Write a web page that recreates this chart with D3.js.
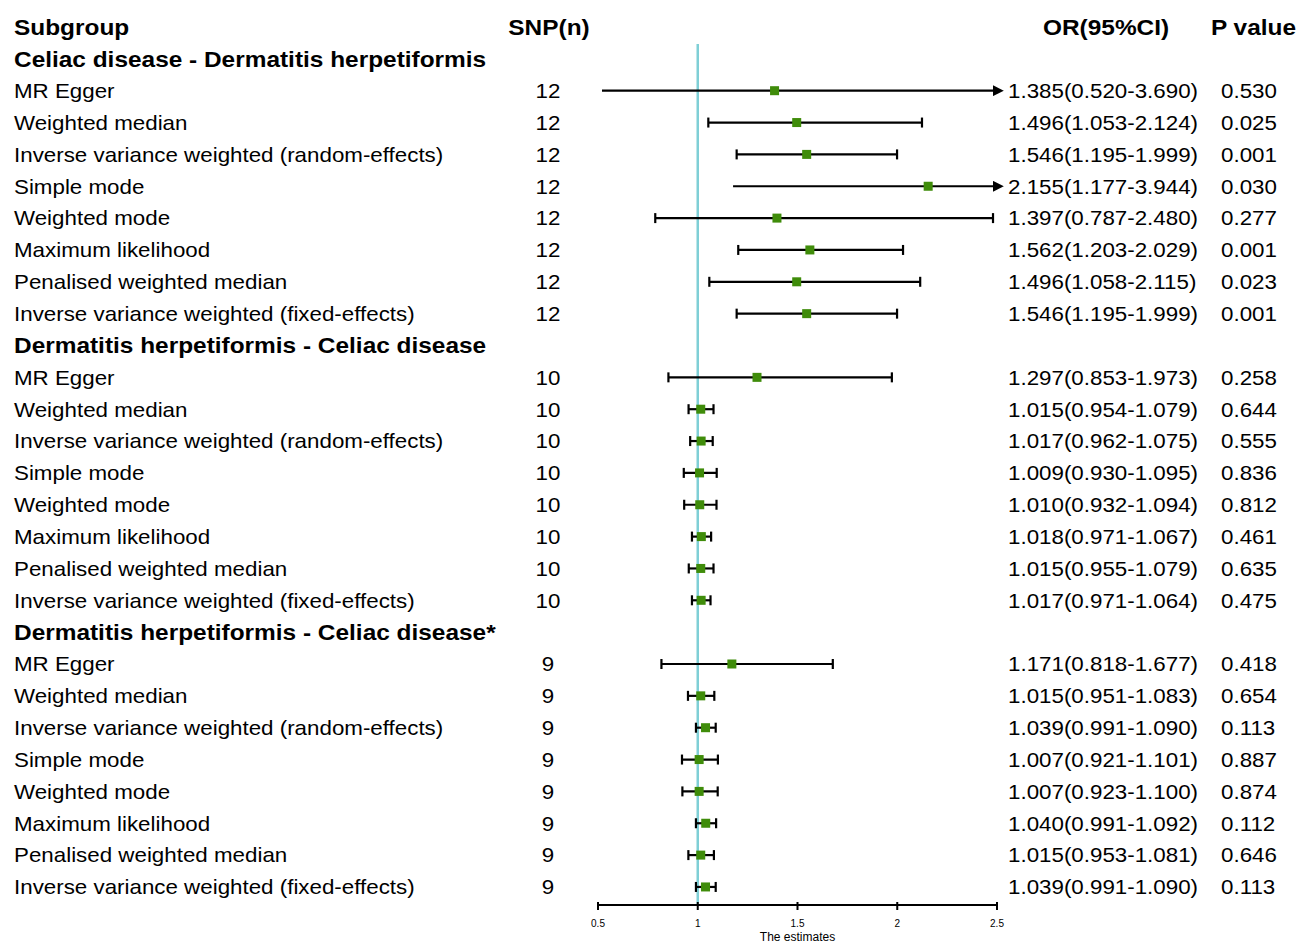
<!DOCTYPE html>
<html>
<head>
<meta charset="utf-8">
<script src="https://cdn.jsdelivr.net/npm/d3@7"></script>
<style>
  body { margin: 0; background: #fff; }
  text { font-family: "Liberation Sans", Arial, sans-serif; fill: #000; }
</style>
</head>
<body>
<div id="chart"></div>
<script>
// forest plot data
var groups = [
  "Celiac disease - Dermatitis herpetiformis",
  "Dermatitis herpetiformis - Celiac disease",
  "Dermatitis herpetiformis - Celiac disease*"
];
var methods = [
  "MR Egger",
  "Weighted median",
  "Inverse variance weighted (random-effects)",
  "Simple mode",
  "Weighted mode",
  "Maximum likelihood",
  "Penalised weighted median",
  "Inverse variance weighted (fixed-effects)"
];
var snpCounts = [12, 10, 9];
var orValues = [
  [1.385, 1.496, 1.546, 2.155, 1.397, 1.562, 1.496, 1.546],
  [1.297, 1.015, 1.017, 1.009, 1.010, 1.018, 1.015, 1.017],
  [1.171, 1.015, 1.039, 1.007, 1.007, 1.040, 1.015, 1.039]
];
var lowerValues = [
  [0.520, 1.053, 1.195, 1.177, 0.787, 1.203, 1.058, 1.195],
  [0.853, 0.954, 0.962, 0.930, 0.932, 0.971, 0.955, 0.971],
  [0.818, 0.951, 0.991, 0.921, 0.923, 0.991, 0.953, 0.991]
];
var upperValues = [
  [3.690, 2.124, 1.999, 3.944, 2.480, 2.029, 2.115, 1.999],
  [1.973, 1.079, 1.075, 1.095, 1.094, 1.067, 1.079, 1.064],
  [1.677, 1.083, 1.090, 1.101, 1.100, 1.092, 1.081, 1.090]
];
var pValues = [
  ["0.530", "0.025", "0.001", "0.030", "0.277", "0.001", "0.023", "0.001"],
  ["0.258", "0.644", "0.555", "0.836", "0.812", "0.461", "0.635", "0.475"],
  ["0.418", "0.654", "0.113", "0.887", "0.874", "0.112", "0.646", "0.113"]
];
var xTicks = [0.5, 1, 1.5, 2, 2.5];

var width = 1297, height = 943;

var svg = d3.select("#chart").append("svg")
    .attr("width", width)
    .attr("height", height);

//text in the original is a bit wider than Liberation Sans, so stretch it horizontally
function addText(sel, x, txt, bold, anchor) {
  return sel.append("text")
      .attr("transform", "translate(" + x + ",0) scale(" + (bold ? 1.11 : 1.09) + ",1)")
      .attr("dy", "0.36em")
      .attr("font-size", bold ? "22px" : "20.5px")
      .attr("font-weight", bold ? "bold" : "normal")
      .attr("text-anchor", anchor || "start")
      .text(txt);
}

//build flat rows list: group title, methods...
var rows = [];
groups.forEach(function(g, gi) {
  rows.push({type: "group", label: g});
  methods.forEach(function(m, mi) {
    rows.push({type: "row", label: m, n: snpCounts[gi], or: orValues[gi][mi],
      lo: lowerValues[gi][mi], hi: upperValues[gi][mi], p: pValues[gi][mi]});
  });
});

var y = d3.scaleLinear().domain([0, rows.length]).range([27, 27 + rows.length * 31.85]);
var x = d3.scaleLinear().domain([0.5, 2.5]).range([598, 997]);

var axisY = 905;

//header
var header = svg.append("g").attr("transform", "translate(0," + y(0) + ")");
addText(header, 14, "Subgroup", true);
addText(header, 549, "SNP(n)", true, "middle");
addText(header, 1043, "OR(95%CI)", true);
addText(header, 1211, "P value", true);

//reference line at 1
svg.append("line")
    .attr("x1", x(1)).attr("x2", x(1))
    .attr("y1", 44).attr("y2", axisY)
    .attr("stroke", "#7fcfd6")
    .attr("stroke-width", 2.5);

//arrow marker
svg.append("defs").append("marker")
    .attr("id", "arrow")
    .attr("viewBox", "0 0 10 10")
    .attr("refX", 2).attr("refY", 5)
    .attr("markerWidth", 5).attr("markerHeight", 5)
    .attr("markerUnits", "strokeWidth")
    .attr("orient", "auto")
  .append("path")
    .attr("d", "M0,0 L10,5 L0,10 Z")
    .attr("fill", "#000");

var rowG = svg.selectAll(".rowg")
    .data(rows)
  .enter().append("g")
    .attr("class", "rowg")
    .attr("transform", function(d, i) { return "translate(0," + y(i + 1) + ")"; });

rowG.filter(function(d) { return d.type === "group"; })
  .each(function(d) { addText(d3.select(this), 14, d.label, true); });

var dataRows = rowG.filter(function(d) { return d.type === "row"; });

dataRows.each(function(d) {
  var g = d3.select(this);
  addText(g, 14, d.label, false);
  addText(g, 548, d.n, false, "middle");
  addText(g, 1008, d.or.toFixed(3) + "(" + d.lo.toFixed(3) + "-" + d.hi.toFixed(3) + ")", false);
  addText(g, 1221, d.p, false);
});

//CI lines
dataRows.append("line")
    .attr("x1", function(d) { return x(Math.max(d.lo, 0.5)); })
    .attr("x2", function(d) { return d.hi > 2.5 ? x(2.5) - 2 : x(d.hi); })
    .attr("stroke", "#000").attr("stroke-width", 2.2)
    .attr("marker-end", function(d) { return d.hi > 2.5 ? "url(#arrow)" : null; });

//caps (no cap where the line ends in an arrow)
dataRows.filter(function(d) { return d.hi <= 2.5; })
  .append("line")
    .attr("x1", function(d) { return x(d.lo); }).attr("x2", function(d) { return x(d.lo); })
    .attr("y1", -5).attr("y2", 5)
    .attr("stroke", "#000").attr("stroke-width", 2.2);

dataRows.filter(function(d) { return d.hi <= 2.5; })
  .append("line")
    .attr("x1", function(d) { return x(d.hi); }).attr("x2", function(d) { return x(d.hi); })
    .attr("y1", -5).attr("y2", 5)
    .attr("stroke", "#000").attr("stroke-width", 2.2);

//point estimates
dataRows.append("rect")
    .attr("x", function(d) { return x(d.or) - 4.5; })
    .attr("y", -4.5)
    .attr("width", 9).attr("height", 9)
    .attr("fill", "#3f8c0a");

//x axis
var axis = svg.append("g")
    .attr("transform", "translate(0," + axisY + ")");
axis.append("line")
    .attr("x1", x(0.5)).attr("x2", x(2.5))
    .attr("stroke", "#000").attr("stroke-width", 2);
axis.selectAll(".tick")
    .data(xTicks)
  .enter().append("line")
    .attr("x1", function(d) { return x(d); }).attr("x2", function(d) { return x(d); })
    .attr("y1", -3).attr("y2", 5)
    .attr("stroke", "#000").attr("stroke-width", 2);
axis.selectAll(".ticklabel")
    .data(xTicks)
  .enter().append("text")
    .attr("x", function(d) { return x(d); })
    .attr("y", 22)
    .attr("text-anchor", "middle")
    .attr("font-size", "10px")
    .text(function(d) { return d; });
axis.append("text")
    .attr("x", x(1.5)).attr("y", 36)
    .attr("text-anchor", "middle")
    .attr("font-size", "12px")
    .text("The estimates");
</script>
</body>
</html>
